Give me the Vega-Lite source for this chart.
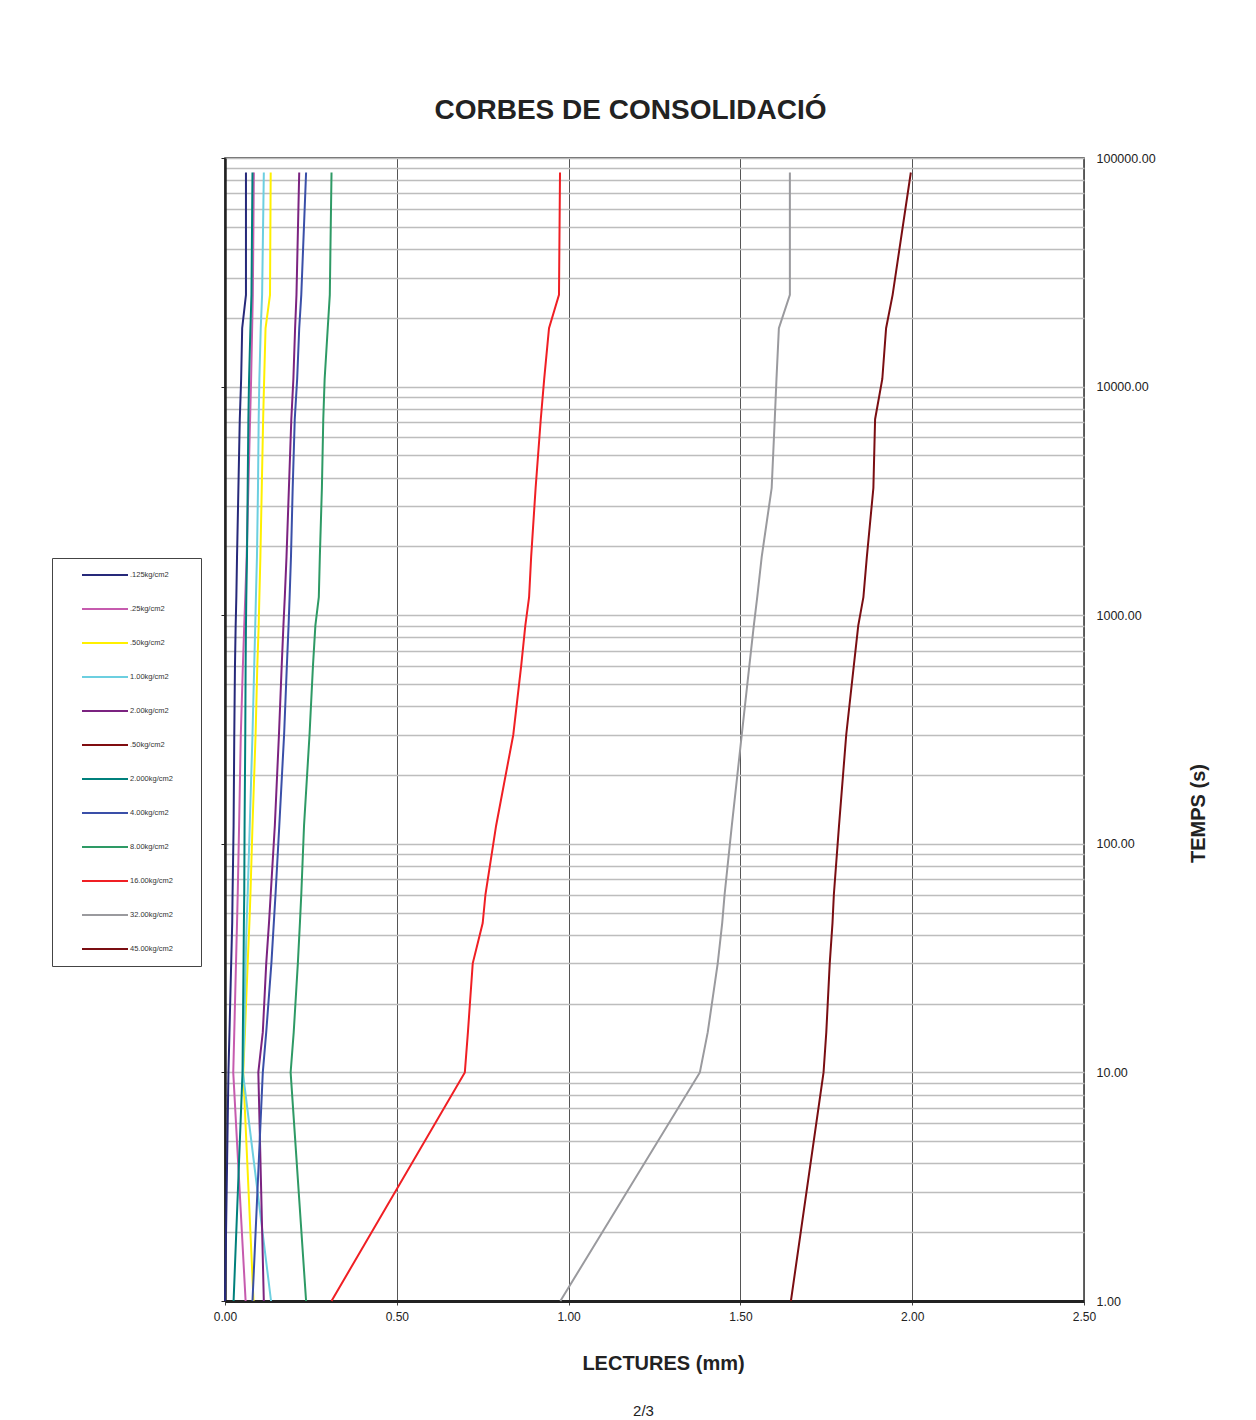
{
"$schema": "https://vega.github.io/schema/vega-lite/v6.json",
"width": 859, "height": 1143,
"autosize": {"type": "none"},
"padding": {"left": 225, "top": 158, "right": 172, "bottom": 119},
"background": "white",
"title": {"text": "2/3", "orient": "bottom", "fontSize": 15, "fontWeight": "normal", "font": "Liberation Sans", "color": "#222", "offset": 31, "dx": -11},
"config": {"font": "Liberation Sans", "view": {"stroke": "#333", "strokeWidth": 1.5}},
"data": {"values": [
{"s":".125kg/cm2","t":1,"v":0.000},{"s":".125kg/cm2","t":10,"v":0.010},{"s":".125kg/cm2","t":15,"v":0.013},{"s":".125kg/cm2","t":30,"v":0.018},{"s":".125kg/cm2","t":45,"v":0.021},{"s":".125kg/cm2","t":60,"v":0.022},{"s":".125kg/cm2","t":120,"v":0.025},{"s":".125kg/cm2","t":300,"v":0.027},{"s":".125kg/cm2","t":600,"v":0.029},{"s":".125kg/cm2","t":900,"v":0.031},{"s":".125kg/cm2","t":1200,"v":0.033},{"s":".125kg/cm2","t":1800,"v":0.035},{"s":".125kg/cm2","t":3600,"v":0.039},{"s":".125kg/cm2","t":7200,"v":0.043},{"s":".125kg/cm2","t":10800,"v":0.047},{"s":".125kg/cm2","t":18000,"v":0.050},{"s":".125kg/cm2","t":25200,"v":0.061},{"s":".125kg/cm2","t":86400,"v":0.061},
{"s":".25kg/cm2","t":1,"v":0.060},{"s":".25kg/cm2","t":10,"v":0.024},{"s":".25kg/cm2","t":15,"v":0.027},{"s":".25kg/cm2","t":30,"v":0.032},{"s":".25kg/cm2","t":45,"v":0.035},{"s":".25kg/cm2","t":60,"v":0.037},{"s":".25kg/cm2","t":120,"v":0.041},{"s":".25kg/cm2","t":300,"v":0.046},{"s":".25kg/cm2","t":600,"v":0.052},{"s":".25kg/cm2","t":900,"v":0.056},{"s":".25kg/cm2","t":1200,"v":0.059},{"s":".25kg/cm2","t":1800,"v":0.063},{"s":".25kg/cm2","t":3600,"v":0.068},{"s":".25kg/cm2","t":7200,"v":0.073},{"s":".25kg/cm2","t":10800,"v":0.076},{"s":".25kg/cm2","t":18000,"v":0.079},{"s":".25kg/cm2","t":25200,"v":0.081},{"s":".25kg/cm2","t":86400,"v":0.084},
{"s":".50kg/cm2","t":1,"v":0.083},{"s":".50kg/cm2","t":10,"v":0.053},{"s":".50kg/cm2","t":15,"v":0.058},{"s":".50kg/cm2","t":30,"v":0.066},{"s":".50kg/cm2","t":45,"v":0.071},{"s":".50kg/cm2","t":60,"v":0.074},{"s":".50kg/cm2","t":120,"v":0.080},{"s":".50kg/cm2","t":300,"v":0.089},{"s":".50kg/cm2","t":600,"v":0.094},{"s":".50kg/cm2","t":900,"v":0.098},{"s":".50kg/cm2","t":1200,"v":0.100},{"s":".50kg/cm2","t":1800,"v":0.103},{"s":".50kg/cm2","t":3600,"v":0.107},{"s":".50kg/cm2","t":7200,"v":0.111},{"s":".50kg/cm2","t":10800,"v":0.114},{"s":".50kg/cm2","t":18000,"v":0.118},{"s":".50kg/cm2","t":25200,"v":0.131},{"s":".50kg/cm2","t":86400,"v":0.133},
{"s":"1.00kg/cm2","t":1,"v":0.134},{"s":"1.00kg/cm2","t":10,"v":0.052},{"s":"1.00kg/cm2","t":15,"v":0.056},{"s":"1.00kg/cm2","t":30,"v":0.060},{"s":"1.00kg/cm2","t":45,"v":0.063},{"s":"1.00kg/cm2","t":60,"v":0.066},{"s":"1.00kg/cm2","t":120,"v":0.072},{"s":"1.00kg/cm2","t":300,"v":0.080},{"s":"1.00kg/cm2","t":600,"v":0.085},{"s":"1.00kg/cm2","t":900,"v":0.088},{"s":"1.00kg/cm2","t":1200,"v":0.090},{"s":"1.00kg/cm2","t":1800,"v":0.093},{"s":"1.00kg/cm2","t":3600,"v":0.096},{"s":"1.00kg/cm2","t":7200,"v":0.098},{"s":"1.00kg/cm2","t":10800,"v":0.100},{"s":"1.00kg/cm2","t":18000,"v":0.104},{"s":"1.00kg/cm2","t":25200,"v":0.108},{"s":"1.00kg/cm2","t":86400,"v":0.113},
{"s":"2.00kg/cm2","t":1,"v":0.113},{"s":"2.00kg/cm2","t":10,"v":0.097},{"s":"2.00kg/cm2","t":15,"v":0.110},{"s":"2.00kg/cm2","t":30,"v":0.120},{"s":"2.00kg/cm2","t":45,"v":0.128},{"s":"2.00kg/cm2","t":60,"v":0.133},{"s":"2.00kg/cm2","t":120,"v":0.145},{"s":"2.00kg/cm2","t":300,"v":0.157},{"s":"2.00kg/cm2","t":600,"v":0.165},{"s":"2.00kg/cm2","t":900,"v":0.170},{"s":"2.00kg/cm2","t":1200,"v":0.174},{"s":"2.00kg/cm2","t":1800,"v":0.179},{"s":"2.00kg/cm2","t":3600,"v":0.186},{"s":"2.00kg/cm2","t":7200,"v":0.193},{"s":"2.00kg/cm2","t":10800,"v":0.199},{"s":"2.00kg/cm2","t":18000,"v":0.204},{"s":"2.00kg/cm2","t":25200,"v":0.208},{"s":"2.00kg/cm2","t":86400,"v":0.216},
{"s":"2.000kg/cm2","t":1,"v":0.025},{"s":"2.000kg/cm2","t":10,"v":0.051},{"s":"2.000kg/cm2","t":15,"v":0.052},{"s":"2.000kg/cm2","t":30,"v":0.054},{"s":"2.000kg/cm2","t":45,"v":0.055},{"s":"2.000kg/cm2","t":60,"v":0.056},{"s":"2.000kg/cm2","t":120,"v":0.057},{"s":"2.000kg/cm2","t":300,"v":0.059},{"s":"2.000kg/cm2","t":600,"v":0.060},{"s":"2.000kg/cm2","t":900,"v":0.061},{"s":"2.000kg/cm2","t":1200,"v":0.062},{"s":"2.000kg/cm2","t":1800,"v":0.064},{"s":"2.000kg/cm2","t":3600,"v":0.066},{"s":"2.000kg/cm2","t":7200,"v":0.068},{"s":"2.000kg/cm2","t":10800,"v":0.070},{"s":"2.000kg/cm2","t":18000,"v":0.074},{"s":"2.000kg/cm2","t":25200,"v":0.077},{"s":"2.000kg/cm2","t":86400,"v":0.080},
{"s":"4.00kg/cm2","t":1,"v":0.080},{"s":"4.00kg/cm2","t":10,"v":0.110},{"s":"4.00kg/cm2","t":15,"v":0.120},{"s":"4.00kg/cm2","t":30,"v":0.135},{"s":"4.00kg/cm2","t":45,"v":0.142},{"s":"4.00kg/cm2","t":60,"v":0.147},{"s":"4.00kg/cm2","t":120,"v":0.158},{"s":"4.00kg/cm2","t":300,"v":0.172},{"s":"4.00kg/cm2","t":600,"v":0.180},{"s":"4.00kg/cm2","t":900,"v":0.185},{"s":"4.00kg/cm2","t":1200,"v":0.188},{"s":"4.00kg/cm2","t":1800,"v":0.192},{"s":"4.00kg/cm2","t":3600,"v":0.197},{"s":"4.00kg/cm2","t":7200,"v":0.203},{"s":"4.00kg/cm2","t":10800,"v":0.210},{"s":"4.00kg/cm2","t":18000,"v":0.216},{"s":"4.00kg/cm2","t":25200,"v":0.222},{"s":"4.00kg/cm2","t":86400,"v":0.236},
{"s":"8.00kg/cm2","t":1,"v":0.236},{"s":"8.00kg/cm2","t":10,"v":0.191},{"s":"8.00kg/cm2","t":15,"v":0.200},{"s":"8.00kg/cm2","t":30,"v":0.212},{"s":"8.00kg/cm2","t":45,"v":0.218},{"s":"8.00kg/cm2","t":60,"v":0.222},{"s":"8.00kg/cm2","t":120,"v":0.230},{"s":"8.00kg/cm2","t":300,"v":0.246},{"s":"8.00kg/cm2","t":600,"v":0.256},{"s":"8.00kg/cm2","t":900,"v":0.263},{"s":"8.00kg/cm2","t":1200,"v":0.273},{"s":"8.00kg/cm2","t":1800,"v":0.276},{"s":"8.00kg/cm2","t":3600,"v":0.282},{"s":"8.00kg/cm2","t":7200,"v":0.286},{"s":"8.00kg/cm2","t":10800,"v":0.290},{"s":"8.00kg/cm2","t":18000,"v":0.299},{"s":"8.00kg/cm2","t":25200,"v":0.305},{"s":"8.00kg/cm2","t":86400,"v":0.310},
{"s":"16.00kg/cm2","t":1,"v":0.310},{"s":"16.00kg/cm2","t":10,"v":0.698},{"s":"16.00kg/cm2","t":15,"v":0.707},{"s":"16.00kg/cm2","t":30,"v":0.721},{"s":"16.00kg/cm2","t":45,"v":0.750},{"s":"16.00kg/cm2","t":60,"v":0.758},{"s":"16.00kg/cm2","t":120,"v":0.789},{"s":"16.00kg/cm2","t":300,"v":0.839},{"s":"16.00kg/cm2","t":600,"v":0.862},{"s":"16.00kg/cm2","t":900,"v":0.874},{"s":"16.00kg/cm2","t":1200,"v":0.885},{"s":"16.00kg/cm2","t":1800,"v":0.891},{"s":"16.00kg/cm2","t":3600,"v":0.904},{"s":"16.00kg/cm2","t":7200,"v":0.919},{"s":"16.00kg/cm2","t":10800,"v":0.929},{"s":"16.00kg/cm2","t":18000,"v":0.943},{"s":"16.00kg/cm2","t":25200,"v":0.972},{"s":"16.00kg/cm2","t":86400,"v":0.975},
{"s":"32.00kg/cm2","t":1,"v":0.976},{"s":"32.00kg/cm2","t":10,"v":1.382},{"s":"32.00kg/cm2","t":15,"v":1.405},{"s":"32.00kg/cm2","t":30,"v":1.434},{"s":"32.00kg/cm2","t":45,"v":1.447},{"s":"32.00kg/cm2","t":60,"v":1.454},{"s":"32.00kg/cm2","t":120,"v":1.475},{"s":"32.00kg/cm2","t":300,"v":1.504},{"s":"32.00kg/cm2","t":600,"v":1.526},{"s":"32.00kg/cm2","t":900,"v":1.539},{"s":"32.00kg/cm2","t":1200,"v":1.549},{"s":"32.00kg/cm2","t":1800,"v":1.562},{"s":"32.00kg/cm2","t":3600,"v":1.591},{"s":"32.00kg/cm2","t":7200,"v":1.600},{"s":"32.00kg/cm2","t":10800,"v":1.605},{"s":"32.00kg/cm2","t":18000,"v":1.612},{"s":"32.00kg/cm2","t":25200,"v":1.644},{"s":"32.00kg/cm2","t":86400,"v":1.644},
{"s":"45.00kg/cm2","t":1,"v":1.647},{"s":"45.00kg/cm2","t":10,"v":1.742},{"s":"45.00kg/cm2","t":15,"v":1.750},{"s":"45.00kg/cm2","t":30,"v":1.760},{"s":"45.00kg/cm2","t":45,"v":1.768},{"s":"45.00kg/cm2","t":60,"v":1.772},{"s":"45.00kg/cm2","t":120,"v":1.787},{"s":"45.00kg/cm2","t":300,"v":1.808},{"s":"45.00kg/cm2","t":600,"v":1.830},{"s":"45.00kg/cm2","t":900,"v":1.843},{"s":"45.00kg/cm2","t":1200,"v":1.858},{"s":"45.00kg/cm2","t":1800,"v":1.868},{"s":"45.00kg/cm2","t":3600,"v":1.887},{"s":"45.00kg/cm2","t":7200,"v":1.892},{"s":"45.00kg/cm2","t":10800,"v":1.913},{"s":"45.00kg/cm2","t":18000,"v":1.924},{"s":"45.00kg/cm2","t":25200,"v":1.943},{"s":"45.00kg/cm2","t":86400,"v":1.996}
]},
"layer": [
{
 "mark": {"type": "point", "opacity": 0},
 "encoding": {
  "x": {"field": "v", "type": "quantitative", "scale": {"domain": [0, 2.5], "nice": false, "zero": false},
   "axis": {"orient": "bottom", "values": [0, 0.5, 1, 1.5, 2, 2.5], "format": ".2f", "grid": true, "gridColor": "#555", "gridWidth": 1, "gridOpacity": 1, "domain": true, "domainColor": "#222", "domainWidth": 3, "ticks": true, "tickColor": "#444", "tickSize": 4, "labelFontSize": 12, "labelColor": "#222", "labelPadding": 6, "labelFlush": false, "title": "LECTURES (mm)", "titleFontSize": 20, "titleFontWeight": "bold", "titleColor": "#222", "titleX": 438, "titleY": 68, "titleBaseline": "alphabetic"}},
  "y": {"field": "t", "type": "quantitative", "scale": {"type": "log", "domain": [1, 100000], "nice": false},
   "axis": {"orient": "left", "values": [1,2,3,4,5,6,7,8,9,10,20,30,40,50,60,70,80,90,100,200,300,400,500,600,700,800,900,1000,2000,3000,4000,5000,6000,7000,8000,9000,10000,20000,30000,40000,50000,60000,70000,80000,90000,100000], "grid": true, "gridColor": "#BDBDBD", "gridWidth": 1.5, "gridOpacity": 1, "labels": false, "ticks": false, "domain": true, "domainColor": "#222", "domainWidth": 2.5, "title": null}}
 }
},
{
 "mark": {"type": "line", "strokeWidth": 2},
 "encoding": {
  "x": {"field": "v", "type": "quantitative", "scale": {"domain": [0, 2.5], "nice": false, "zero": false},
   "axis": {"orient": "top", "title": "CORBES DE CONSOLIDACIÓ", "titleFontSize": 28, "titleFontWeight": "bold", "titleColor": "#222", "labels": false, "ticks": false, "domain": false, "grid": false, "titleX": 405, "titleY": -40, "titleBaseline": "alphabetic"}},
  "y": {"field": "t", "type": "quantitative", "scale": {"type": "log", "domain": [1, 100000], "nice": false},
   "axis": {"orient": "right", "values": [1, 10, 100, 1000, 10000, 100000], "format": ".2f", "grid": false, "ticks": false, "domain": false, "labelPadding": 12, "labelFontSize": 12.5, "labelColor": "#222", "labelFlush": false, "labelOverlap": false, "title": "TEMPS (s)", "titleFontSize": 20, "titleFontWeight": "bold", "titleColor": "#222", "titleAngle": 270, "titleX": 114, "titleY": 655, "titleBaseline": "middle", "titleAlign": "center"}},
  "color": {"field": "s", "type": "nominal",
   "scale": {"domain": [".125kg/cm2", ".25kg/cm2", ".50kg/cm2", "1.00kg/cm2", "2.00kg/cm2", ".50kg/cm2 ", "2.000kg/cm2", "4.00kg/cm2", "8.00kg/cm2", "16.00kg/cm2", "32.00kg/cm2", "45.00kg/cm2"],
    "range": ["#26297A", "#C65BAE", "#FFF000", "#6CCFE0", "#7B2380", "#800D10", "#00807C", "#3A4FA8", "#2E9A65", "#F01F24", "#9A9A9E", "#7A0E12"]},
   "legend": {"orient": "none", "legendX": -173, "legendY": 400, "title": ".", "titleOrient": "right", "titleFontSize": 7.5, "titleOpacity": 0, "titlePadding": 25, "symbolType": "stroke", "symbolSize": 2116, "symbolStrokeWidth": 2, "clipHeight": 34, "rowPadding": 0, "padding": 0, "symbolOffset": 29, "labelOffset": 1, "labelFontSize": 7.5, "labelColor": "#333", "strokeColor": "#444"}},
  "order": {"field": "t", "type": "quantitative"}
 }
},
{
 "mark": {"type": "point", "opacity": 0},
 "encoding": {
  "x": {"field": "v", "type": "quantitative", "scale": {"domain": [0, 2.5], "nice": false, "zero": false}, "axis": null},
  "y": {"field": "t", "type": "quantitative", "scale": {"type": "log", "domain": [1, 100000], "nice": false},
   "axis": {"orient": "left", "values": [1, 10, 100, 1000, 10000, 100000], "grid": false, "labels": false, "ticks": true, "tickSize": 4, "tickColor": "#222", "tickWidth": 1, "domain": false, "title": null}}
 }
}
],
"resolve": {"axis": {"x": "independent", "y": "independent"}}
}
